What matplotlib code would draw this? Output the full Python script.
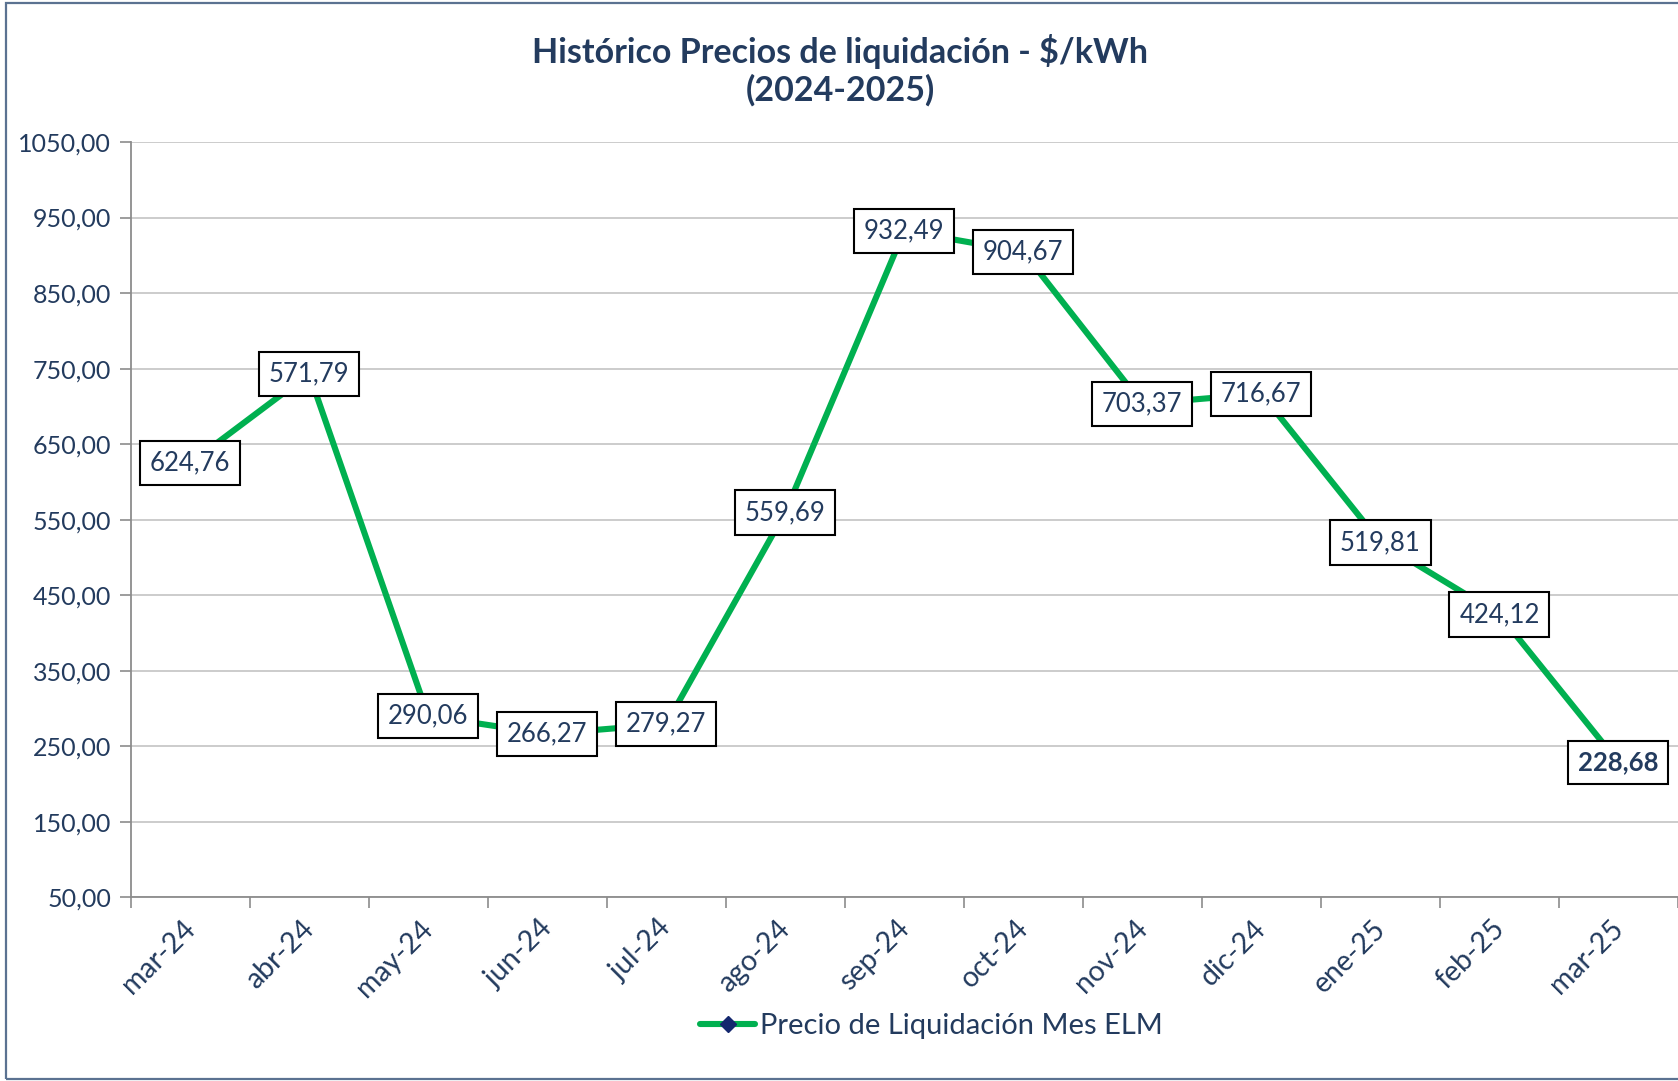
import matplotlib.pyplot as plt
import matplotlib.patches as mpatches
import matplotlib.transforms as mtransforms
from matplotlib.ticker import FixedLocator, FuncFormatter

# Data
months = ['mar-24', 'abr-24', 'may-24', 'jun-24', 'jul-24', 'ago-24', 'sep-24',
          'oct-24', 'nov-24', 'dic-24', 'ene-25', 'feb-25', 'mar-25']
# plotted positions of the line (abr-24 sits near 743 on the axis)
line_values = [624.76, 743.0, 290.06, 266.27, 279.27, 559.69, 932.49,
               904.67, 703.37, 716.67, 519.81, 424.12, 228.68]
# values printed in the data labels
label_values = [624.76, 571.79, 290.06, 266.27, 279.27, 559.69, 932.49,
                904.67, 703.37, 716.67, 519.81, 424.12, 228.68]
y_ticks = [50, 150, 250, 350, 450, 550, 650, 750, 850, 950, 1050]

navy = '#233B5E'
green = '#00B050'

plt.rcParams['font.family'] = ['Lato', 'DejaVu Sans']

fig = plt.figure(figsize=(16.78, 10.81), dpi=100)
ax = fig.add_axes([0.0778, 0.170, 0.9222, 0.6986])

x = list(range(len(months)))
ax.plot(x, line_values, color=green, linewidth=4.4, marker='D', markersize=8,
        markerfacecolor='#14286E', markeredgecolor='#14286E', solid_capstyle='round',
        label='Precio de Liquidación Mes ELM', zorder=3)

# data labels centered on the points
for i, (v, lab) in enumerate(zip(line_values, label_values)):
    txt = f'{lab:.2f}'.replace('.', ',')
    bold = (i == len(months) - 1)
    ax.text(i, v, txt, ha='center', va='center', fontsize=18.5, color=navy,
            fontweight='bold' if bold else 'normal', zorder=5,
            bbox=dict(boxstyle='square,pad=0.38', facecolor='white',
                      edgecolor='black', linewidth=1.5))

ax.set_xlim(-0.5, len(months) - 0.5)
ax.set_ylim(50, 1050)

# y axis
ax.yaxis.set_major_locator(FixedLocator(y_ticks))
ax.yaxis.set_major_formatter(FuncFormatter(lambda v, p: f'{v:.2f}'.replace('.', ',')))
ax.grid(axis='y', color='#C8C8C8', linewidth=1.3)
ax.set_axisbelow(True)
ax.tick_params(axis='y', which='major', length=8, width=1.2, color='#8C8C8C',
               labelsize=18, labelcolor=navy, pad=6)

# x axis: tick marks at category borders, labels at centers
ax.set_xticks([i - 0.5 for i in range(len(months) + 1)])
ax.set_xticklabels([])
ax.set_xticks(x, minor=True)
ax.set_xticklabels(months, minor=True, rotation=45, ha='right', rotation_mode='default')
ax.tick_params(axis='x', which='major', length=8, width=1.2, color='#8C8C8C')
ax.tick_params(axis='x', which='minor', length=0, labelsize=20.5, labelcolor=navy, pad=13)
shift = mtransforms.ScaledTranslation(10 / 100, 0, fig.dpi_scale_trans)
for lbl in ax.get_xticklabels(minor=True):
    lbl.set_transform(lbl.get_transform() + shift)

for side in ['top', 'right']:
    ax.spines[side].set_visible(False)
for side in ['left', 'bottom']:
    ax.spines[side].set_color('#8C8C8C')
    ax.spines[side].set_linewidth(1.3)

fig.text(0.5006, 0.969, 'Histórico Precios de liquidación - $/kWh\n(2024-2025)',
         ha='center', va='top', fontsize=24.5, fontweight='bold', color=navy,
         linespacing=1.22)

fig.legend(loc='center', bbox_to_anchor=(0.555, 0.051), frameon=False,
           fontsize=21, labelcolor=navy, handlelength=1.9, handletextpad=0.15)

# outer chart border
fig.patches.append(mpatches.Rectangle((0.0038, 0.0018), 1.2, 0.9952, transform=fig.transFigure,
                                      fill=False, edgecolor='#5B7291', linewidth=1.6))

fig.savefig('out.png', dpi=100)
